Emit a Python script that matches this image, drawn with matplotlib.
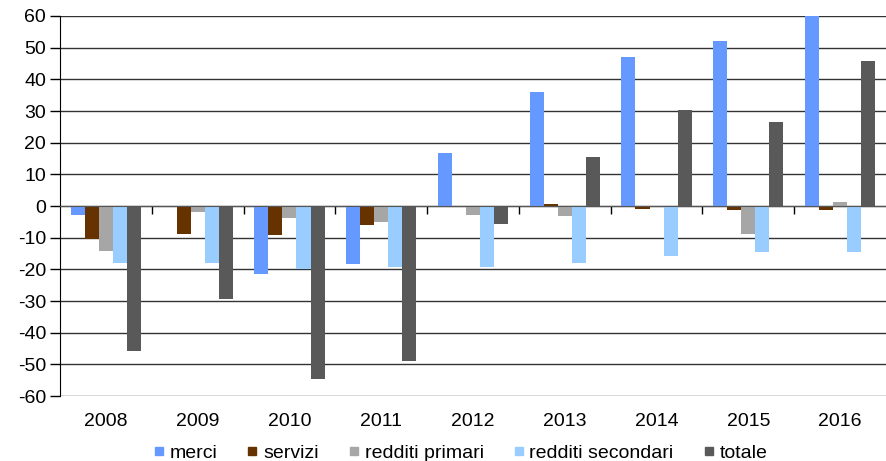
import numpy as np
import matplotlib
matplotlib.use('Agg')
from matplotlib import pyplot as plt
from matplotlib import transforms
from matplotlib.lines import Line2D

plt.rcParams['font.family'] = ['Liberation Sans', 'DejaVu Sans']
plt.rcParams['axes.unicode_minus'] = False

# data
years = ['2008', '2009', '2010', '2011', '2012', '2013', '2014', '2015', '2016']
merci = [-2.8, -0.3, -21.6, -18.3, 16.8, 35.9, 47.2, 52.1, 60.2]
servizi = [-10.5, -8.8, -9.2, -6.1, -0.3, 0.5, -0.8, -1.4, -1.2]
redditi_primari = [-14.2, -1.9, -3.8, -5.2, -2.8, -3.1, 0.0, -9.0, 1.4]
redditi_secondari = [-17.9, -18.1, -19.8, -19.3, -19.3, -17.9, -15.9, -14.6, -14.6]
totale = [-45.7, -29.5, -54.5, -49.0, -5.8, 15.5, 30.3, 26.5, 45.9]

series = [merci, servizi, redditi_primari, redditi_secondari, totale]
names = ['merci', 'servizi', 'redditi primari', 'redditi secondari', 'totale']
colors = ['#6699FF', '#663300', '#A6A6A6', '#99CCFF', '#595959']

fig = plt.figure(figsize=(8.86, 4.61), dpi=100)
ax = fig.add_axes([60 / 886, 65 / 461, 826 / 886, 380 / 461])

x = np.arange(len(years))
w = 0.153
for i, (vals, name, c) in enumerate(zip(series, names, colors)):
    ax.bar(x + (i - 2) * w, vals, w, color=c, label=name, zorder=3)

ax.set_xlim(-0.5, len(years) - 0.5)
ax.set_ylim(-60, 60)
ax.set_yticks(np.arange(-60, 61, 10))
ax.yaxis.grid(True, color='#333333', linewidth=1)
ax.set_axisbelow(True)

for s in ['top', 'right']:
    ax.spines[s].set_visible(False)
ax.spines['left'].set_color('black')
ax.spines['bottom'].set_position(('data', 0))
ax.spines['bottom'].set_color('#555555')
ax.spines['bottom'].set_zorder(4)

# category boundary ticks sit on the zero line
ax.set_xticks(np.arange(0.5, len(years) - 1, 1))
ax.set_xticklabels([])
ax.tick_params(axis='x', length=6, width=1, color='black', direction='out')
ax.tick_params(axis='y', length=7, width=1, labelsize=14, pad=3)

# year labels at the bottom of the plot
trans = transforms.blended_transform_factory(ax.transData, ax.transAxes)
for xi, yr in zip(x, years):
    ax.text(xi, -0.066, yr, transform=trans, ha='center', va='center', fontsize=14)

# small square legend keys
handles = [Line2D([], [], linestyle='none', marker='s', markersize=6,
                  markerfacecolor=c, markeredgecolor=c) for c in colors]
ax.legend(handles, names, loc='center', bbox_to_anchor=(0.485, -0.15), ncol=5,
          frameon=False, fontsize=14, handlelength=0.5, handletextpad=0.3,
          columnspacing=1.55)

plt.savefig('out.png', dpi=100)
